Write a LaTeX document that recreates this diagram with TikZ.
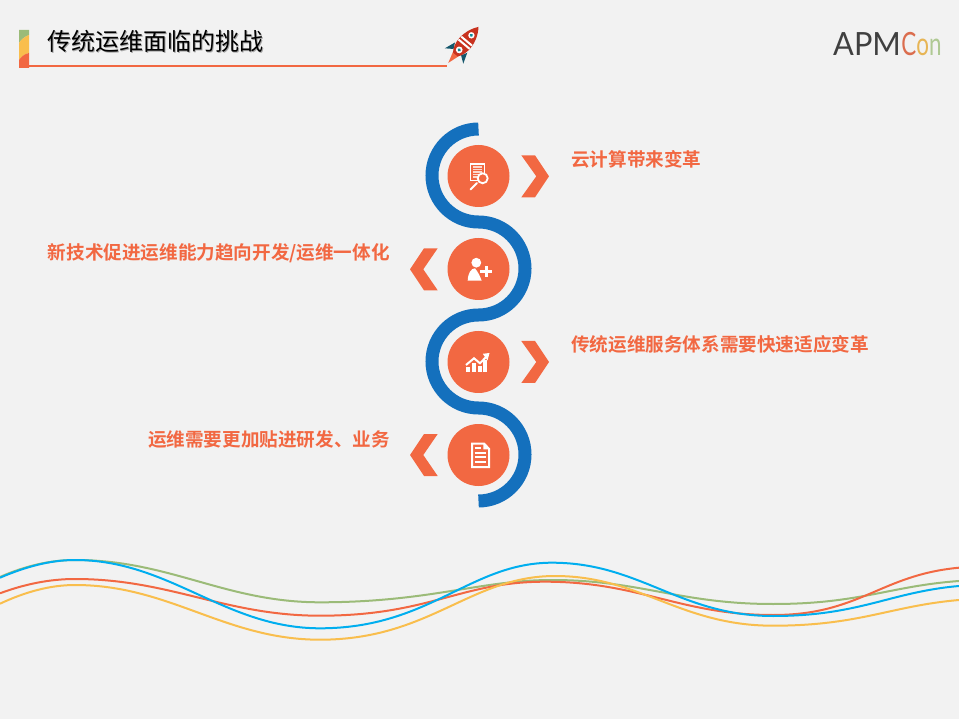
\documentclass[tikz,border=0pt]{standalone}
\usepackage{fontspec}
\setmainfont{Liberation Sans}
\newfontfamily\titlefont{Noto Sans CJK SC}
\newfontfamily\labelfont[BoldFont={Noto Sans CJK SC Bold}]{Noto Sans CJK SC}
\newfontfamily\logofont{Lato}
\definecolor{bgcol}{HTML}{F2F2F2}
\definecolor{ribbon}{HTML}{1470BD}
\definecolor{coral}{HTML}{F26842}
\definecolor{leaf}{HTML}{9BBB78}
\definecolor{sun}{HTML}{F9BE4D}
\definecolor{sky}{HTML}{00AEEF}
\definecolor{teal}{HTML}{14566B}
\definecolor{hull}{HTML}{C8321F}
\newcommand{\shadowed}[1]{\rlap{\raisebox{-1.2pt}{\kern1.2pt\textcolor{black!35}{#1}}}#1}
\tikzset{
    badge/.style={circle,fill=coral,minimum size=62pt,inner sep=0pt},
    caption/.style={text=coral,font=\fontsize{18.6pt}{22pt}\labelfont\bfseries,inner sep=0pt},
    wave/.style={line width=2pt},
    icon/.style={white,line width=1.5pt},
}
\begin{document}
\begin{tikzpicture}[x=1pt,y=-1pt]
    \useasboundingbox[fill=bgcol] (0,0) rectangle (959,719);

    % title bar
    \fill[leaf] (19,30) -- (29,30) -- (29,35) .. controls (24,37) and (21,40) .. (19,43) -- cycle;
    \fill[sun] (19,43) .. controls (21,40) and (24,37) .. (29,35) -- (29,53) .. controls (24,54) and (21,57) .. (19,60) -- cycle;
    \fill[coral] (19,60) .. controls (21,57) and (24,54) .. (29,53) -- (29,68) -- (19,68) -- cycle;
    \fill[coral] (29,65) rectangle (447,66.6);
    \node[anchor=west,inner sep=0pt,font=\fontsize{24pt}{28pt}\titlefont] (title) at (47,42) {\shadowed{传统运维面临的挑战}};

    % rocket
    \begin{scope}[shift={(465,43)},rotate=50]
        \fill[coral] (-26,0) -- (-13,-4) -- (-13,4) -- cycle;
        \fill[teal] (-12,-5) -- (-6,-8) -- (-17,-12) -- cycle;
        \fill[teal] (-12,5) -- (-6,8) -- (-17,12) -- cycle;
        \fill[hull] (-15,-3) .. controls (-8,-9) and (8,-10) .. (21,0) .. controls (8,10) and (-8,9) .. (-15,3) -- cycle;
        \fill[white] (-2.5,-7.2) -- (-0.5,-7.2) -- (-0.5,7.2) -- (-2.5,7.2) -- cycle;
        \fill[white] (1.5,-7) -- (3.5,-7) -- (3.5,7) -- (1.5,7) -- cycle;
        \fill[white] (-9,0) circle (3.4);
        \fill[teal!70!cyan] (-9,0) circle (1.8);
        \fill[white] (10,0) circle (3.2);
        \fill[teal!70!cyan] (10,0) circle (1.7);
    \end{scope}

    % logo
    \node[anchor=base west,inner sep=0pt,text=black!75,font=\fontsize{32pt}{36pt}\logofont] (logo) at (833,56)
        {\scalebox{.96}[1]{APM}\kern.5pt\scalebox{.7}[1]{\textcolor{coral!80!gray}{C}\textcolor{sun!85!gray}{o}\textcolor{leaf!80!white}{n}}};

    % ribbon
    \draw[ribbon,line width=13pt] (478.5,129) arc[start angle=-90,end angle=-270,radius=46.5]
        arc[start angle=-90,end angle=90,radius=46.5]
        arc[start angle=-90,end angle=-270,radius=46.5]
        arc[start angle=-90,end angle=90,radius=46.5];

    \node[badge] (search) at (478.5,176) {};
    \node[badge] (user) at (478.5,269) {};
    \node[badge] (chart) at (478.5,362) {};
    \node[badge] (doc) at (478.5,455) {};

    % chevrons
    \foreach \y in {176.3,362} {
        \fill[coral] (521.3,\y-21) -- (535,\y-21) -- (549,\y) -- (535,\y+21) -- (521.3,\y+21) -- (536.3,\y) -- cycle;
    }
    \foreach \y in {269.3,455} {
        \fill[coral] (437.7,\y-21) -- (424,\y-21) -- (410,\y) -- (424,\y+21) -- (437.7,\y+21) -- (423.3,\y) -- cycle;
    }

    % labels
    \node[caption,anchor=west] (capa) at (571,159) {云计算带来变革};
    \node[caption,anchor=east] (capb) at (390,253.5) {新技术促进运维能力趋向开发/运维一体化};
    \node[caption,anchor=west] (capc) at (571,344.5) {传统运维服务体系需要快速适应变革};
    \node[caption,anchor=east] (capd) at (390,439) {运维需要更加贴进研发、业务};

    % search icon
    \draw[icon] (470.6,164) rectangle (484.4,180.5);
    \foreach \y in {167,169.5,172,174.5,177} {
        \draw[white!75!coral,line width=1.2pt] (473,\y) -- (482,\y);
    }
    \draw[icon,line width=1.8pt,fill=coral] (482.7,178.3) circle (5);
    \draw[icon,line width=2pt,line cap=round] (477,183) -- (470.5,189.5);

    % user icon
    \fill[white] (476.3,262.7) circle (4.9);
    \fill[white] (467.7,280.7) .. controls (468,273) and (471,268.5) .. (475,268.3) .. controls (478,272) and (480,276) .. (481.7,280.7) -- cycle;
    \draw[coral,line width=5.5pt] (486,265.9) -- (486,277.5) (480.2,271.7) -- (491.8,271.7);
    \draw[white,line width=3pt] (486,265.9) -- (486,277.5) (480.2,271.7) -- (491.8,271.7);

    % chart icon
    \fill[white] (466,367.3) rectangle (470,372);
    \fill[white] (472.3,363) rectangle (476,372);
    \fill[white] (478.3,366) rectangle (481.7,372);
    \fill[white] (483.3,360) rectangle (486.7,372);
    \draw[white,line width=2pt] (466,365) -- (474,358.3) -- (480,363.3) -- (487,356);
    \fill[white] (482.8,353.8) -- (489.5,353) -- (487.5,360.5) -- cycle;

    % document icon
    \draw[icon,line width=2pt] (472,443.5) -- (484,443.5) -- (489.2,449) -- (489.2,467) -- (472,467) -- cycle;
    \fill[white] (483.3,443) -- (490,449.3) -- (483.3,449.3) -- cycle;
    \foreach \y/\e in {448.3/481,452.7/486,457.3/486,461.7/486} {
        \draw[white,line width=1.8pt] (474.5,\y) -- (\e,\y);
    }

    % waves
    \draw[wave,leaf] (0,577) .. controls (25,566) and (50,560) .. (75,560) .. controls (170,560) and (225,602.3) .. (320,602.3) .. controls (430,602.3) and (480,580) .. (552,580) .. controls (640,580) and (680,604) .. (773,604) .. controls (860,604) and (890,586) .. (959,581);
    \draw[wave,coral] (0,593.3) .. controls (25,584) and (50,579) .. (75,579) .. controls (170,579) and (225,615.7) .. (320,615.7) .. controls (430,615.7) and (460,581.7) .. (545,581.7) .. controls (640,581.7) and (680,615) .. (773,615) .. controls (860,615) and (880,575) .. (959,567.7);
    \draw[wave,sun] (0,603.7) .. controls (25,592) and (50,585) .. (75,585) .. controls (170,585) and (225,639.7) .. (320,639.7) .. controls (430,639.7) and (470,576) .. (555,576) .. controls (640,576) and (680,625.7) .. (773,625.7) .. controls (860,625.7) and (890,606) .. (959,600);
    \draw[wave,sky] (0,577.7) .. controls (25,567) and (50,560) .. (75,560) .. controls (170,560) and (225,628.3) .. (320,628.3) .. controls (430,628.3) and (470,562.7) .. (552,562.7) .. controls (640,562.7) and (680,616) .. (773,616) .. controls (860,616) and (890,592) .. (959,586);
\end{tikzpicture}
\end{document}
